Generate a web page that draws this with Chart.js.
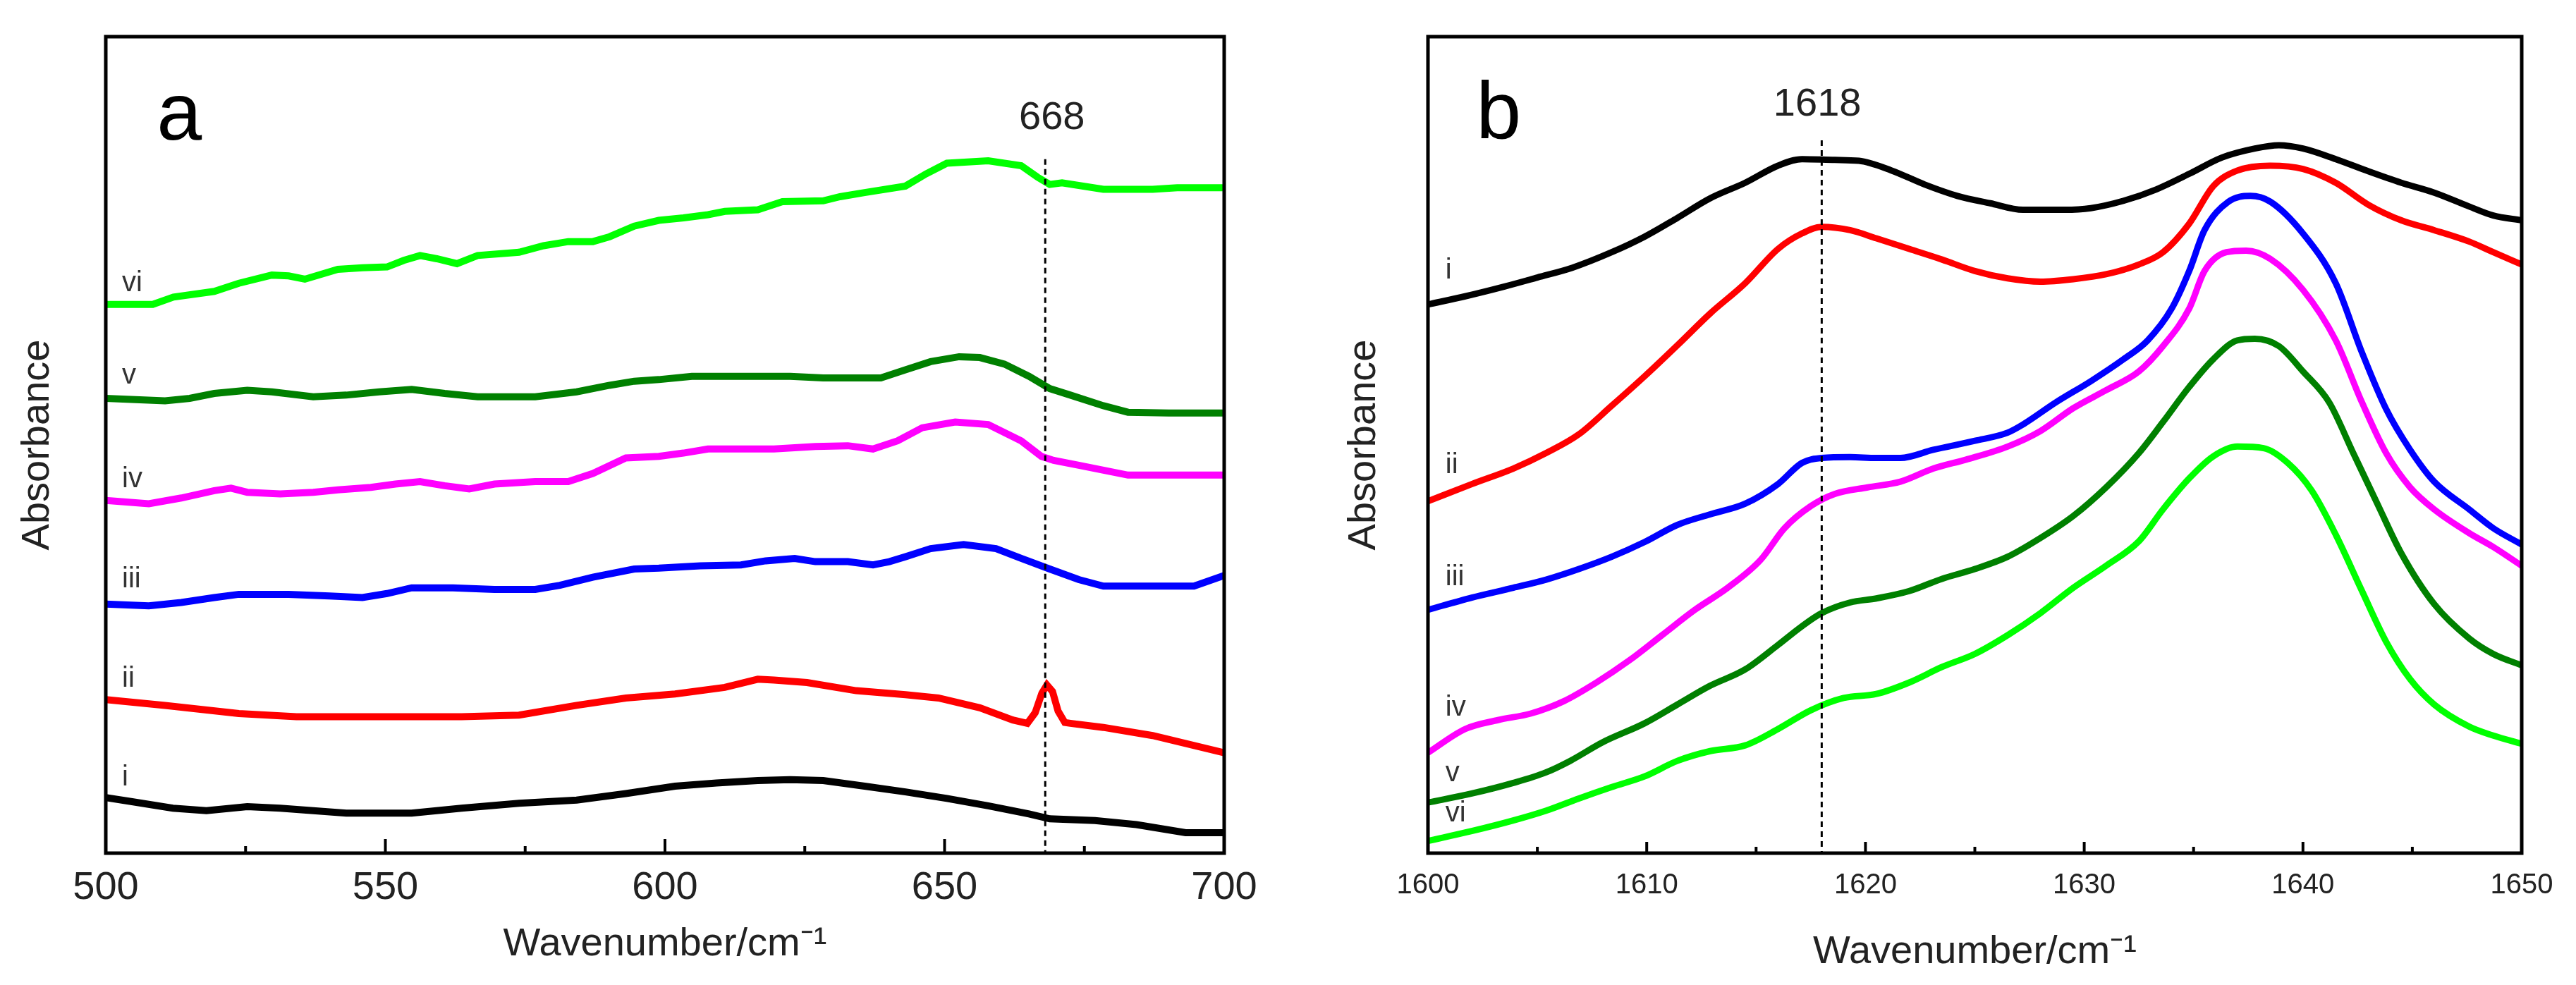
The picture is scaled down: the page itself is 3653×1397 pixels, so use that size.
<!DOCTYPE html>
<html>
<head>
<meta charset="utf-8">
<script src="https://cdn.jsdelivr.net/npm/chart.js@4.4.1/dist/chart.umd.min.js"></script>
<style>
  html, body { margin: 0; padding: 0; background: #fff; }
  #wrapA { position: absolute; left: 0; top: 0; width: 1800px; height: 1397px; }
  #wrapB { position: absolute; left: 1800px; top: 0; width: 1853px; height: 1397px; }
</style>
</head>
<body>
<div id="wrapA"><canvas id="chartA"></canvas></div>
<div id="wrapB"><canvas id="chartB"></canvas></div>
<script>
// ---- panel a data (wavenumber, absorbance a.u.) ----
const aI_x = [500,504.7,512,518,525.3,531.2,543,554.7,563.6,573.9,584.2,593,601.8,609.2,616.6,622.4,628.3,635.7,643,650.4,657.8,665.1,668.8,676.9,684.3,693.1,700];
const aI_y = [6.8,6.3,5.5,5.2,5.7,5.5,4.9,4.9,5.5,6.1,6.5,7.3,8.2,8.6,8.9,9.0,8.9,8.2,7.5,6.7,5.8,4.8,4.2,4.0,3.5,2.5,2.5];
const aII_x = [500,510.6,523.8,534.1,547.4,563.6,573.9,584.2,593,601.8,610.7,616.6,619.5,625.4,634.2,643,648.9,656.3,662.2,664.8,666.2,667.4,668.3,669.3,670.3,671.5,672.5,678.4,687.2,700];
const aII_y = [18.8,18.1,17.1,16.7,16.7,16.7,16.9,18.1,19.0,19.5,20.3,21.3,21.2,20.9,19.9,19.4,19.0,17.8,16.3,15.9,17.2,19.6,20.6,19.8,17.4,16.0,15.9,15.4,14.4,12.3];
const aIII_x = [500,507.7,513.5,519.4,523.8,532.7,540,545.9,550.3,554.7,562.1,569.5,576.8,581.2,587.1,594.5,598.9,606.3,613.6,618,623.2,626.9,632.7,637.2,640.1,643,647.5,653.4,659.2,663.7,668.8,674,678.4,687.2,694.6,700];
const aIII_y = [30.5,30.3,30.7,31.3,31.7,31.7,31.5,31.3,31.8,32.5,32.5,32.3,32.3,32.8,33.8,34.8,34.9,35.2,35.3,35.8,36.1,35.7,35.7,35.3,35.7,36.3,37.3,37.8,37.3,36.1,34.8,33.5,32.7,32.7,32.7,34.0];
const aIV_x = [500,507.7,513.5,519.4,522.4,525.3,531.2,537.1,541.5,547.4,551.8,556.2,560.6,565,569.5,576.8,582.7,587.1,593,598.9,603.3,607.7,613.6,619.5,626.9,632.7,637.2,641.6,646,651.9,657.8,663.7,667.3,669.5,674,682.8,690.1,700];
const aIV_y = [43.2,42.8,43.5,44.4,44.7,44.2,44.0,44.2,44.5,44.8,45.2,45.5,45.0,44.6,45.2,45.5,45.5,46.5,48.4,48.6,49.0,49.5,49.5,49.5,49.8,49.9,49.5,50.5,52.1,52.8,52.5,50.5,48.6,48.1,47.5,46.3,46.3,46.3];
const aV_x = [500,510.6,515,519.4,525.3,529.7,537.1,543,548.9,554.7,560.6,566.5,576.8,584.2,590.1,594.5,598.9,604.8,613.6,622.4,628.3,638.6,643,647.5,652.6,656.3,660.7,665.1,668.8,672.5,678.4,682.8,690.1,700];
const aV_y = [55.7,55.4,55.7,56.3,56.7,56.5,55.9,56.1,56.5,56.8,56.3,55.9,55.9,56.5,57.3,57.8,58.0,58.4,58.4,58.4,58.2,58.2,59.2,60.2,60.8,60.7,59.9,58.4,56.9,56.1,54.8,54.0,53.9,53.9];
const aVI_x = [500,508.4,512.1,519.4,523.8,529.7,532.7,535.6,541.5,545.9,550.3,553.3,556.2,559.2,562.8,566.5,573.9,578.3,582.7,587.1,590.1,594.5,598.9,603.3,607.7,610.7,616.6,621,628.3,631.3,635.7,643,646.7,650.4,657.8,663.7,666.6,668.8,671,678.4,687.2,691.6,700];
const aVI_y = [67.2,67.2,68.1,68.8,69.8,70.8,70.7,70.3,71.5,71.7,71.8,72.6,73.2,72.8,72.2,73.2,73.6,74.4,74.9,74.9,75.5,76.8,77.5,77.8,78.2,78.6,78.8,79.8,79.9,80.4,80.9,81.7,83.2,84.5,84.8,84.2,82.8,81.9,82.1,81.3,81.3,81.5,81.5];

// ---- panel b data ----
const bI_x = [1600,1601.7,1603.5,1605,1606.6,1608.4,1609.9,1611.4,1612.9,1614.5,1616,1617.1,1618.6,1619.7,1621.2,1622.7,1624.2,1625.7,1627.2,1629.1,1630.3,1631.8,1633.3,1634.8,1636.3,1637.8,1638.9,1640,1641.5,1643,1644.5,1646,1647.6,1648.7,1650];
const bI_y = [67.2,68.2,69.4,70.5,71.7,73.6,75.5,77.8,80.2,82.1,84.2,85.0,84.9,84.8,83.6,81.9,80.5,79.6,78.8,78.8,79.0,79.9,81.3,83.2,85.2,86.3,86.7,86.3,85.0,83.5,82.1,80.9,79.2,78.1,77.5];
const bII_x = [1600,1602,1603.9,1605.4,1606.9,1608.4,1609.9,1611.4,1612.9,1614.5,1616,1617.1,1618,1619.3,1620.5,1622,1623.5,1625,1626.5,1628,1629.5,1631,1632.5,1633.6,1634.8,1635.9,1637,1638.5,1640,1641.5,1643,1644.5,1646,1647.6,1648.7,1650];
const bII_y = [43.1,45.2,47.1,49.0,51.3,54.8,58.4,62.2,66.1,69.8,74.0,75.9,76.7,76.3,75.3,74.0,72.7,71.3,70.4,70.0,70.3,70.9,72.1,73.6,77.1,81.7,83.6,84.2,83.8,82.1,79.4,77.5,76.3,74.9,73.6,72.1];
const bIII_x = [1600,1602,1603.9,1605.4,1606.9,1608.4,1609.9,1611.4,1612.9,1614.5,1616,1617.1,1618,1619.3,1620.5,1621.6,1623.1,1625,1626.5,1627.2,1628.7,1630.3,1631.8,1632.9,1634,1634.8,1635.5,1636.6,1637.6,1638.5,1640,1641.5,1642.7,1643.8,1644.9,1646,1647.6,1648.7,1650];
const bIII_y = [29.8,31.3,32.5,33.5,34.8,36.3,38.1,40.2,41.5,42.8,45.2,47.8,48.4,48.5,48.4,48.4,49.4,50.5,51.5,52.5,55.2,57.8,60.5,62.8,66.7,71.3,76.3,79.8,80.5,79.8,75.9,69.8,61.3,54.4,49.4,45.5,42.1,39.8,37.8];
const bIV_x = [1600,1601.7,1603.2,1604.7,1606.2,1607.7,1609.2,1610.7,1612.2,1613.7,1615.2,1616.3,1617.5,1618.6,1620.1,1621.6,1623.1,1624.6,1626.5,1628,1629.5,1631,1632.5,1633.6,1634.8,1635.5,1636.5,1637.4,1638.5,1640,1641.5,1642.7,1643.8,1644.9,1646,1647.6,1648.7,1650];
const bIV_y = [12.3,15.2,16.3,17.1,18.6,20.9,23.6,26.7,29.8,32.5,35.9,39.8,42.5,44.0,44.8,45.5,47.1,48.2,49.8,51.7,54.5,56.7,59.0,62.1,66.7,71.3,73.6,73.8,72.8,69.0,62.8,55.2,49.0,44.8,42.1,39.2,37.5,35.2];
const bV_x = [1600,1602,1603.9,1605.4,1606.5,1608,1609.9,1611.4,1612.9,1614.5,1616,1617.1,1618,1619.3,1620.5,1622,1623.5,1625,1626.5,1628,1629.5,1631,1632.5,1633.6,1634.8,1635.9,1637,1637.8,1638.9,1640,1641.2,1642.3,1643.4,1644.5,1646,1647.6,1648.7,1650];
const bV_y = [6.2,7.3,8.6,9.9,11.3,13.6,15.9,18.2,20.5,22.5,25.5,27.8,29.4,30.7,31.2,32.1,33.6,34.8,36.3,38.6,41.3,44.8,49.0,52.8,57.1,60.5,62.8,63.0,62.1,59.0,55.2,49.0,42.8,36.7,30.5,26.3,24.4,23.0];
const bVI_x = [1600,1602,1603.9,1605.4,1606.9,1608.4,1609.9,1611.4,1612.9,1614.5,1616,1617.5,1619,1620.5,1622,1623.5,1625,1626.5,1628,1629.5,1631,1632.5,1633.6,1634.8,1635.9,1637,1638.2,1639.3,1640.4,1641.5,1642.7,1643.8,1644.9,1646,1647.6,1648.7,1650];
const bVI_y = [1.5,2.7,4.0,5.2,6.7,8.1,9.4,11.3,12.5,13.2,15.2,17.5,19.0,19.5,20.9,22.8,24.4,26.7,29.4,32.5,35.2,38.2,42.1,45.9,48.6,49.8,49.6,47.8,44.4,39.0,32.1,25.9,21.3,18.2,15.5,14.4,13.4];

// curve labels and markers
const seriesNames = ['i', 'ii', 'iii', 'iv', 'v', 'vi'];
const labelA_x = 502.9;
const labelA_y = [9.2, 21.3, 33.5, 45.8, 58.5, 69.8];
const labelB_x = 1600.8;
const labelB_y = [71.3, 47.5, 33.8, 17.8, 9.8, 4.8];
const markerA = 668;
const markerB = 1618;

const colors = ['#000000', '#ff0000', '#0000ff', '#ff00ff', '#008000', '#00ff00'];
const FONT = "'Liberation Sans', Arial, sans-serif";

function zip(xs, ys) {
  return xs.map((x, i) => ({ x: x, y: ys[i] }));
}

const framePlugin = {
  id: 'frame',
  afterDatasetsDraw(chart, args, o) {
    const { ctx, chartArea: a, scales: { x, y } } = chart;
    ctx.save();
    // dashed marker line
    const mx = x.getPixelForValue(o.marker);
    ctx.strokeStyle = '#000';
    ctx.lineWidth = 3;
    ctx.setLineDash([8, 6]);
    ctx.beginPath();
    ctx.moveTo(mx, y.getPixelForValue(o.markerTop));
    ctx.lineTo(mx, a.bottom);
    ctx.stroke();
    ctx.setLineDash([]);
    // inward ticks on bottom axis
    ctx.lineWidth = 4;
    const n = Math.round((x.max - x.min) / o.minor);
    const every = Math.round(o.major / o.minor);
    for (let k = 0; k <= n; k++) {
      const px = x.getPixelForValue(x.min + k * o.minor);
      const len = (k % every === 0) ? o.majorLen : o.minorLen;
      ctx.beginPath();
      ctx.moveTo(px, a.bottom);
      ctx.lineTo(px, a.bottom - len);
      ctx.stroke();
    }
    // box
    ctx.lineWidth = 5;
    ctx.strokeRect(a.left, a.top, a.width, a.height);
    // curve labels
    ctx.fillStyle = '#333';
    ctx.font = '40px ' + FONT;
    ctx.textAlign = 'left';
    ctx.textBaseline = 'middle';
    seriesNames.forEach((s, i) => {
      ctx.fillText(s, x.getPixelForValue(o.labelX), y.getPixelForValue(o.labelY[i]));
    });
    // marker value
    ctx.fillStyle = '#222';
    ctx.font = '56px ' + FONT;
    ctx.textAlign = 'center';
    ctx.fillText(String(o.marker), x.getPixelForValue(o.markerTextX), y.getPixelForValue(o.markerTextY));
    // panel letter
    ctx.fillStyle = '#000';
    ctx.font = '115px ' + FONT;
    ctx.textAlign = 'left';
    ctx.textBaseline = 'alphabetic';
    ctx.fillText(o.letter, x.getPixelForValue(o.letterX), y.getPixelForValue(o.letterY));
    ctx.restore();
  }
};

function makeChart(id, sets, xmin, xmax, step, tickFont, tickPad, yTitlePad, xTitlePad, yWidth, rightPad, tension, lw, frame) {
  return new Chart(document.getElementById(id).getContext('2d'), {
    type: 'line',
    data: {
      datasets: sets.map((d, i) => ({
        label: seriesNames[i],
        data: d,
        borderColor: colors[i],
        borderWidth: lw,
        pointRadius: 0,
        tension: tension,
        cubicInterpolationMode: tension > 0 ? 'monotone' : 'default',
        fill: false
      }))
    },
    options: {
      responsive: true,
      maintainAspectRatio: false,
      animation: false,
      devicePixelRatio: 1,
      layout: { padding: { top: 52, right: rightPad, left: 0, bottom: 0 } },
      plugins: { legend: { display: false }, tooltip: { enabled: false }, frame: frame },
      scales: {
        x: {
          type: 'linear',
          min: xmin,
          max: xmax,
          grid: { display: false, drawTicks: false },
          border: { display: false },
          ticks: {
            stepSize: step, color: '#222', font: { family: FONT, size: tickFont }, padding: tickPad, maxRotation: 0,
            callback: v => String(v)
          },
          title: { display: true, text: 'Wavenumber/cm⁻¹', color: '#222', font: { family: FONT, size: 56 }, padding: { top: 0, bottom: xTitlePad } },
          afterFit(s) { s.height = 1397 - 1210; }
        },
        y: {
          min: 0,
          max: 100,
          grid: { display: false, drawTicks: false },
          border: { display: false },
          ticks: { display: false },
          title: { display: true, text: 'Absorbance', color: '#222', font: { family: FONT, size: 56 }, padding: { top: yTitlePad, bottom: 0 } },
          afterFit(s) { s.width = yWidth; }
        }
      }
    },
    plugins: [framePlugin]
  });
}

makeChart('chartA',
  [zip(aI_x, aI_y), zip(aII_x, aII_y), zip(aIII_x, aIII_y), zip(aIV_x, aIV_y), zip(aV_x, aV_y), zip(aVI_x, aVI_y)],
  500, 700, 50, 56, 16, 20, 24, 150, 64, 0, 10,
  { marker: markerA, markerTop: 85, minor: 25, major: 50, majorLen: 20, minorLen: 10,
    labelX: labelA_x, labelY: labelA_y, markerTextX: 669.2, markerTextY: 90.0,
    letter: 'a', letterX: 509.1, letterY: 87.4 });

makeChart('chartB',
  [zip(bI_x, bI_y), zip(bII_x, bII_y), zip(bIII_x, bIII_y), zip(bIV_x, bIV_y), zip(bV_x, bV_y), zip(bVI_x, bVI_y)],
  1600, 1650, 10, 40, 22, 101, 13, 225, 77, 0.3, 9,
  { marker: markerB, markerTop: 87.3, minor: 5, major: 10, majorLen: 16, minorLen: 9,
    labelX: labelB_x, labelY: labelB_y, markerTextX: 1617.8, markerTextY: 91.7,
    letter: 'b', letterX: 1602.2, letterY: 87.6 });
</script>
</body>
</html>
